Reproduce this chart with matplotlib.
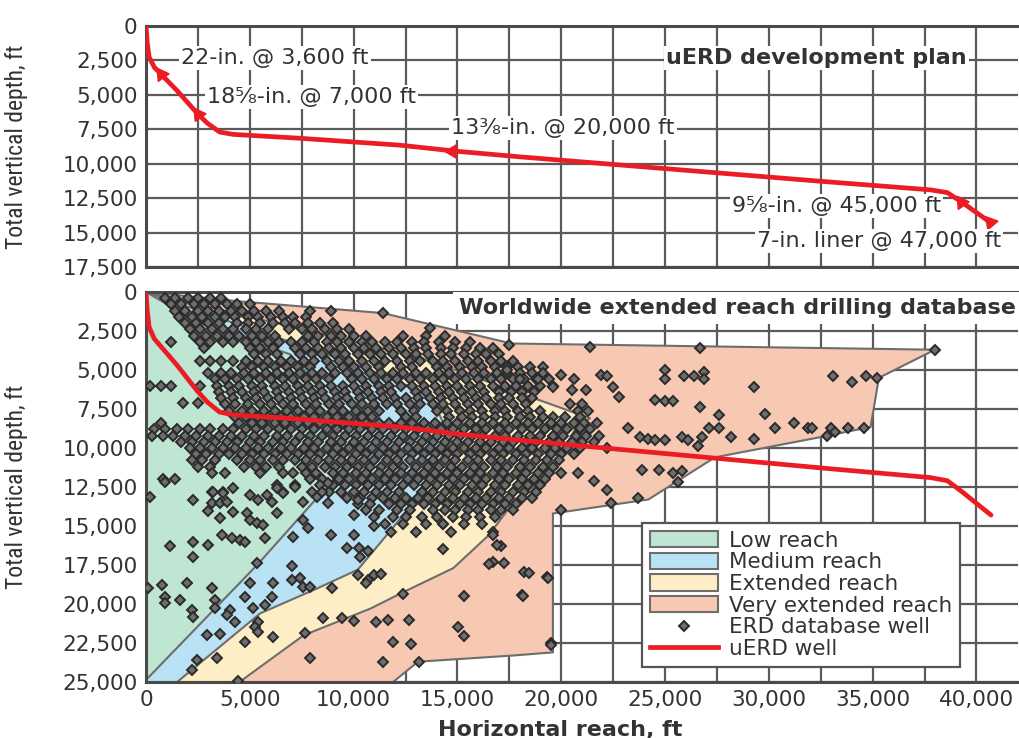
import numpy as np
import matplotlib
matplotlib.use("Agg")
import matplotlib.pyplot as plt
from matplotlib.patches import Polygon, Patch
from matplotlib.lines import Line2D
from matplotlib.ticker import FuncFormatter, MultipleLocator
from matplotlib import font_manager

# ---------------------------------------------------------------- data
# uERD well trajectory: horizontal reach and true vertical depth (ft)
uerd_reach = [0, 60, 150, 400, 770, 1500, 2460, 2950, 3550, 4200, 7400, 12200,
              15000, 18000, 27000, 32700, 37800, 38600, 39300, 40700]
uerd_tvd = [0, 1200, 2250, 3000, 3570, 4700, 6330, 7050, 7700, 7870, 8150, 8650,
            9100, 9500, 10600, 11300, 11900, 12100, 12800, 14300]

# casing program: size and setting depth (measured depth, ft)
casing_sizes = ["22-in.", "18\u215d-in.", "13\u215c-in.", "9\u215d-in.", "7-in. liner"]
casing_md = [3600, 7000, 20000, 45000, 47000]

# reach envelopes (kft): reach, depth vertices
low_reach_x = [0, 2.6, 6.95, 8.9, 9.85, 5.35, 0.05, 0]
low_reach_y = [0, 2.0, 4.0, 6.9, 10.8, 17.5, 24.8, 25.0]
medium_reach_x = [0, 4.05, 9.85, 13.7, 14.7, 13.1, 11.9, 10.2, 8.25, 5.5, 1.5, 0]
medium_reach_y = [0, 1.9, 4.5, 6.6, 9.5, 13.1, 15.1, 17.8, 19.0, 20.6, 25.0, 25.0]
extended_reach_x = [0, 13.2, 21.4, 20.8, 19.4, 17.6, 16.5, 14.8, 12.3, 10.8, 7.6, 4.5, 0]
extended_reach_y = [0, 4.2, 8.1, 8.5, 11.7, 13.65, 15.6, 17.7, 19.3, 20.3, 22.0, 25.0, 25.0]
very_extended_x = [0, 4.5, 11.4, 17.6, 38.0, 35.3, 34.9, 32.5, 27.4, 24.2, 19.6, 19.6,
                   17.7, 13.1, 11.9, 0]
very_extended_y = [0, 0.6, 1.35, 3.3, 3.7, 5.5, 8.65, 9.3, 10.6, 13.3, 14.2, 23.1,
                   23.3, 23.7, 25.0, 25.0]

# ERD database wells in the crowded core, grouped by depth (kft): (tvd, [reach...])
core_wells = [
    (0.4, [0.9, 1.4, 2.0, 2.5, 3.1, 3.6]),
    (0.8, [1.2, 1.7, 2.3, 2.8, 3.3, 3.9, 4.4, 5.0]),
    (1.2, [1.4, 1.9, 2.5, 3.0, 3.5, 4.1, 4.6, 5.2, 5.8, 6.4, 7.9, 8.9]),
    (1.6, [1.6, 2.2, 2.7, 3.3, 3.8, 4.3, 4.9, 5.4, 6.0, 6.6, 7.1, 7.7]),
    (2.0, [1.9, 2.4, 3.0, 3.5, 4.4, 4.9, 5.5, 6.1, 6.7, 7.2, 7.8, 8.4, 9.0]),
    (2.4, [2.1, 2.6, 3.2, 3.7, 4.2, 4.8, 5.3, 5.9, 6.9, 7.5, 8.0, 8.6, 9.2, 9.8]),
    (2.8, [2.3, 2.9, 3.4, 4.0, 4.5, 5.1, 5.6, 6.2, 7.8, 8.3, 8.9, 9.4, 10.0, 10.6,
           12.4, 13.5, 14.4]),
    (3.2, [1.2, 2.6, 3.1, 3.7, 4.2, 4.8, 5.3, 5.9, 6.4, 7.0, 7.5, 8.1, 8.7, 9.2, 9.8,
           10.4, 10.9, 11.5, 12.1, 12.8, 13.4, 14.1, 14.9, 15.6]),
    (3.6, [2.8, 5.0, 5.5, 6.1, 7.2, 7.7, 8.3, 8.8, 9.4, 10.0, 10.5, 11.1, 11.7, 12.3,
           12.9, 13.5, 14.2, 14.8, 15.4, 16.1, 16.7]),
    (4.0, [5.2, 5.8, 6.3, 7.4, 8.0, 8.5, 9.1, 9.6, 10.2, 10.8, 11.3, 11.9, 12.5, 13.0,
           13.6, 14.2, 14.7, 15.3, 15.9, 16.4, 17.0]),
    (4.4, [2.6, 3.1, 3.6, 4.2, 4.8, 5.4, 5.9, 6.5, 7.0, 7.6, 8.1, 8.7, 9.3, 9.8, 10.4,
           11.0, 11.5, 12.1, 12.7, 13.2, 13.8, 14.3, 14.9, 15.5, 16.0, 16.6, 17.1, 17.7]),
    (4.8, [4.6, 5.1, 5.7, 6.2, 6.8, 7.3, 7.9, 8.9, 9.5, 10.0, 10.6, 11.2, 12.3, 12.8,
           14.0, 14.5, 15.1, 15.7, 16.2, 16.8, 17.4, 17.9, 18.5, 19.1]),
    (5.2, [3.0, 3.6, 4.1, 4.7, 5.2, 5.8, 6.3, 6.9, 7.4, 8.0, 8.5, 9.1, 9.7, 10.2, 10.8,
           11.3, 11.9, 12.4, 13.0, 13.5, 14.1, 14.6, 15.2, 15.8, 16.3, 16.9, 17.4, 18.0,
           18.6, 19.1]),
    (5.6, [3.3, 3.8, 4.4, 4.9, 5.5, 6.0, 6.6, 7.1, 7.7, 8.2, 8.8, 9.9, 10.4, 11.0, 11.6,
           12.1, 12.7, 13.2, 13.8, 14.3, 14.9, 15.4, 16.0, 16.6, 17.1, 17.7, 18.2, 18.8,
           19.4]),
    (6.0, [0.2, 0.7, 1.2, 2.6, 3.4, 4.0, 4.5, 5.1, 5.6, 6.2, 6.7, 7.3, 7.8, 8.4, 8.9,
           9.5, 10.0, 10.6, 11.2, 11.7, 12.3, 12.8, 13.4, 13.9, 14.5, 15.0, 15.6, 16.1,
           16.7, 17.3, 17.8, 18.4, 19.0, 19.6]),
    (6.4, [3.5, 4.1, 4.6, 5.2, 5.7, 6.3, 6.9, 7.4, 8.0, 8.5, 9.1, 9.6, 10.2, 10.7, 11.3,
           11.8, 13.0, 13.5, 14.1, 14.6, 15.2, 15.7, 16.3, 17.0, 17.6, 18.1, 18.7]),
    (6.8, [3.6, 4.2, 4.8, 5.3, 5.9, 6.4, 7.0, 7.5, 8.1, 8.6, 9.2, 9.7, 10.3, 10.9, 11.4,
           12.0, 12.5, 13.1, 13.7, 14.2, 14.8, 15.3, 15.9, 16.4, 17.0, 17.5, 18.1, 18.6]),
    (7.1, [1.8, 2.5]),
    (7.2, [3.8, 4.3, 4.9, 5.5, 6.0, 6.6, 7.1, 7.7, 8.2, 8.8, 9.3, 9.9, 10.4, 11.0, 11.6,
           12.1, 12.7, 13.2, 13.8, 14.3, 14.9, 15.5, 16.0, 16.6, 17.1, 17.7, 18.3, 20.4,
           21.0]),
    (7.6, [4.0, 4.6, 5.1, 5.7, 6.2, 6.8, 7.3, 7.9, 8.4, 9.0, 9.5, 10.1, 10.7, 11.2, 12.3,
           12.9, 14.0, 14.5, 15.1, 15.6, 16.2, 16.8, 17.3, 17.9, 18.4, 19.0, 20.8, 21.3]),
    (8.0, [4.3, 4.8, 5.4, 5.9, 6.5, 7.0, 7.6, 8.1, 8.7, 9.2, 9.8, 10.4, 10.9, 12.5, 13.0,
           14.6, 15.2, 15.7, 16.3, 16.8, 17.4, 18.0, 18.5, 19.1, 19.6, 20.2, 20.9]),
    (8.4, [0.7, 4.5, 5.1, 5.6, 6.2, 6.7, 7.3, 7.8, 8.4, 8.9, 9.5, 10.1, 10.6, 11.2, 11.7,
           12.3, 12.8, 13.4, 13.9, 14.5, 15.0, 15.6, 16.2, 16.7, 17.3, 17.8, 18.4, 18.9,
           19.5, 20.0, 20.6, 21.1, 21.7]),
    (8.8, [0.4, 0.9, 1.5, 2.0, 2.6, 3.1, 3.7, 4.2, 4.8, 5.3, 5.9, 6.4, 7.0, 7.5, 8.1,
           8.7, 9.2, 9.8, 10.3, 10.9, 11.4, 12.0, 12.5, 13.1, 13.6, 14.2, 14.8, 15.3,
           15.9, 16.4, 17.0, 17.5, 18.1, 18.6, 19.2, 19.8, 20.3, 20.9, 21.4]),
    (9.2, [0.3, 0.8, 1.3, 1.9, 2.4, 3.0, 3.5, 4.1, 4.6, 5.2, 5.7, 6.3, 6.8, 7.4, 7.9,
           8.5, 9.0, 9.6, 10.1, 10.7, 11.2, 11.8, 12.4, 12.9, 13.5, 14.0, 14.6, 15.1,
           15.7, 16.2, 16.8, 17.3, 17.9, 18.5, 19.0, 19.6, 20.1, 20.7, 21.2, 21.8]),
    (9.6, [1.7, 2.2, 2.8, 3.3, 3.9, 4.4, 5.0, 5.5, 6.1, 6.6, 7.2, 7.8, 8.3, 8.9, 9.4,
           10.0, 10.5, 11.1, 11.6, 12.2, 12.7, 13.3, 13.8, 14.4, 15.0, 15.5, 16.1, 16.6,
           17.2, 17.7, 18.3, 18.8, 19.4, 19.9, 20.5, 21.0, 21.6]),
    (10.0, [2.1, 2.6, 3.2, 3.7, 4.3, 4.8, 5.4, 5.9, 6.5, 7.0, 7.6, 8.1, 8.7, 9.2, 9.8,
            10.3, 10.9, 11.4, 12.0, 12.6, 13.1, 13.7, 14.2, 14.8, 15.3, 15.9, 16.4,
            17.0, 17.5, 18.1, 18.6, 19.2, 19.7, 20.3, 20.9]),
    (10.4, [2.4, 2.9, 3.5, 4.0, 4.6, 5.1, 5.7, 6.2, 6.8, 7.3, 7.9, 8.4, 9.0, 9.5, 10.1,
            10.6, 11.2, 11.7, 12.3, 12.8, 13.4, 13.9, 14.5, 15.0, 15.6, 16.1, 16.7,
            17.2, 17.8, 18.3, 18.9, 19.5, 20.0, 20.6]),
    (10.8, [2.2, 2.7, 3.3, 4.4, 5.0, 5.5, 6.1, 6.6, 7.2, 7.7, 8.3, 8.8, 9.4, 9.9, 10.5,
            11.0, 11.6, 12.1, 12.7, 13.3, 13.8, 14.4, 14.9, 15.5, 16.0, 16.6, 17.1,
            17.7, 18.2, 18.8, 19.3, 19.9]),
    (11.2, [2.5, 3.1, 4.7, 5.3, 5.8, 6.4, 7.5, 8.0, 8.6, 9.1, 9.7, 10.2, 10.8, 11.3,
            11.9, 12.4, 13.0, 13.6, 14.1, 14.7, 15.2, 15.8, 16.3, 16.9, 17.4, 18.0,
            18.5, 19.1, 19.6]),
    (11.6, [3.2, 3.8, 5.5, 6.6, 7.1, 7.7, 8.2, 9.0, 9.5, 10.1, 10.6, 11.2, 11.7, 12.3,
            12.8, 13.4, 13.9, 14.5, 15.0, 15.6, 16.1, 16.7, 17.2, 17.8, 18.3, 18.9,
            19.4, 20.0]),
    (12.0, [0.8, 1.4, 7.9, 8.5, 9.3, 9.8, 10.4, 10.9, 11.5, 12.0, 12.6, 13.1, 13.7,
            14.2, 14.8, 15.3, 15.9, 16.4, 17.0, 17.5, 18.1, 18.7, 19.2]),
    (12.4, [6.3, 7.2, 8.4, 9.0, 9.6, 10.1, 10.7, 11.2, 11.8, 12.4, 12.9, 13.5, 14.0,
            14.6, 15.1, 15.7, 16.2, 16.8, 17.3, 17.9, 18.4, 19.0]),
    (12.8, [3.2, 3.7, 6.6, 8.8, 9.4, 10.0, 10.5, 11.1, 11.6, 12.2, 13.3, 13.8, 14.4,
            14.9, 15.5, 16.0, 16.6, 17.1, 17.7, 18.2, 18.8]),
    (13.2, [9.7, 10.3, 10.9, 11.4, 12.0, 12.5, 13.1, 13.6, 14.2, 14.8, 15.3, 15.9,
            16.4, 17.0, 17.5, 18.1, 18.6]),
    (13.6, [10.2, 10.8, 11.7, 12.3, 12.8, 13.4, 13.9, 14.5, 15.1, 15.6, 16.2, 16.7,
            17.3, 17.8]),
    (14.0, [10.6, 11.2, 12.1, 12.7, 13.8, 14.4, 14.9, 15.5, 16.0, 16.6, 17.1, 17.7]),
    (14.4, [11.0, 11.9, 12.5, 13.3, 14.0, 14.8, 15.4, 16.1, 16.8]),
    (14.9, [11.5, 12.4, 13.5, 14.3, 15.3, 16.2]),
    (15.4, [11.8, 13.0, 14.7, 16.7]),
]

# ERD database wells standing apart from the core (kft): (reach, tvd)
outlying_wells = [
    (11.4, 1.35), (13.7, 2.3), (17.5, 3.4), (21.4, 3.5), (26.7, 3.6), (38.0, 3.7),
    (17.4, 5.0), (18.0, 5.6), (18.9, 5.6), (20.0, 5.3), (20.6, 5.6), (19.6, 6.1),
    (20.5, 6.3), (21.2, 6.3), (21.9, 5.3), (22.2, 5.4), (22.5, 6.1), (22.8, 6.7),
    (25.0, 5.0), (25.0, 5.6), (25.9, 5.4), (26.4, 5.4), (26.9, 5.1), (26.9, 5.6),
    (29.3, 6.1), (33.1, 5.4), (34.0, 5.8), (34.7, 5.4), (35.2, 5.5), (24.5, 6.9),
    (25.0, 7.0), (25.4, 7.0), (26.7, 7.4), (27.6, 7.9), (29.8, 7.8), (23.2, 8.7),
    (23.8, 9.3), (24.2, 9.4), (24.5, 9.5), (25.0, 9.5), (25.8, 9.3), (26.1, 9.5),
    (26.6, 9.9), (27.1, 8.7), (26.8, 9.3), (27.6, 8.7), (28.2, 9.3), (29.3, 9.4),
    (30.3, 8.7), (31.2, 8.4), (31.9, 8.7), (32.1, 8.7), (33.0, 8.7), (33.8, 8.7),
    (34.6, 8.7), (32.8, 9.2), (33.2, 9.0), (20.9, 8.7), (20.8, 11.6), (21.6, 12.1),
    (22.2, 12.7), (23.9, 11.4), (24.7, 11.4), (25.4, 11.6), (25.8, 11.5), (25.6, 12.2),
    (22.2, 10.0), (22.4, 13.5), (23.7, 13.2), (20.0, 14.0), (17.1, 16.3), (19.3, 18.3),
    (18.1, 19.4), (19.5, 22.5),
    (0.19, 13.14), (0.92, 12.18), (2.27, 13.33), (3.23, 12.82), (3.72, 12.88),
    (4.2, 12.56), (3.19, 13.53), (3.57, 13.53), (3.91, 13.46), (2.99, 14.04),
    (3.57, 14.49), (4.2, 14.1), (4.87, 14.17), (5.02, 13.01), (5.41, 13.33),
    (5.84, 13.01), (6.08, 13.46), (6.32, 12.56), (6.61, 12.88), (6.32, 14.17),
    (5.02, 14.62), (5.36, 14.81), (5.65, 14.94), (3.67, 15.58), (4.15, 15.77),
    (4.54, 15.9), (4.78, 16.03), (5.74, 15.77), (1.16, 16.28), (2.27, 16.03),
    (2.99, 16.22), (7.19, 12.5), (7.58, 13.46), (8.01, 12.82), (8.25, 13.14),
    (8.5, 12.82), (8.79, 13.53), (8.79, 12.24), (7.58, 14.62), (7.82, 15.13),
    (7.1, 15.71), (8.89, 15.58), (10.0, 15.58), (10.19, 13.33), (10.0, 14.29),
    (9.7, 16.41), (10.24, 16.41), (10.33, 16.99),
    (14.3, 14.9), (16.7, 15.6), (16.9, 16.2), (14.3, 16.5), (16.7, 17.3),
    (11.0, 15.0), (10.7, 16.6),
    (2.27, 17.0), (5.36, 17.37), (7.05, 17.56), (0.1, 18.97), (0.77, 18.78),
    (1.98, 18.65), (3.19, 18.97), (0.92, 19.55), (0.92, 19.94), (1.64, 19.74),
    (3.33, 19.74), (2.22, 20.38), (2.27, 20.83), (3.33, 20.26), (4.06, 20.38),
    (3.91, 20.7), (4.3, 21.15), (5.02, 18.65), (6.13, 18.65), (7.05, 18.46),
    (7.43, 18.33), (7.58, 18.91), (7.92, 18.91), (4.78, 19.55), (6.08, 19.55),
    (5.17, 20.26), (5.74, 20.06), (5.41, 21.15), (5.26, 21.47), (5.41, 21.79),
    (6.13, 22.11), (2.94, 21.99), (3.57, 21.92), (4.78, 22.44), (7.67, 21.86),
    (8.54, 20.9), (9.46, 20.9), (10.0, 21.09), (8.98, 18.97), (10.19, 18.14),
    (10.67, 18.46), (2.46, 23.59), (3.43, 23.46), (2.22, 24.23), (7.92, 23.46),
    (4.44, 24.93),
    (16.5, 17.44), (17.23, 17.37), (18.2, 17.95), (18.44, 18.01), (19.35, 18.33),
    (10.96, 18.14), (11.3, 18.08), (10.58, 18.65), (12.36, 19.36), (15.31, 19.49),
    (18.16, 19.49), (11.06, 21.15), (11.64, 21.02), (12.65, 21.02), (15.02, 21.47),
    (15.31, 22.05), (11.88, 22.44), (12.75, 22.56), (19.5, 22.63), (11.4, 23.72),
    (13.14, 23.72),
]

region_labels = ["Low reach", "Medium reach", "Extended reach", "Very extended reach"]

# ---------------------------------------------------------------- style
RED = "#ec1c24"
GRID = "#5a5a5a"
EDGE = "#6d6d6d"
TXT = "#333333"
FILLS = ["#bfe5d3", "#b9e2f5", "#fdeec6", "#f8c9b2"]


def first_family(names):
    have = {f.name for f in font_manager.fontManager.ttflist}
    for n in names:
        if n in have:
            return n
    return "DejaVu Sans"


NARROW = first_family(["Liberation Sans Narrow", "Roboto Condensed", "Liberation Sans"])
plt.rcParams["font.family"] = ["DejaVu Sans"]

W, H = 1019, 738
fig = plt.figure(figsize=(W / 100, H / 100), dpi=100)


def rect(left, top, right, bottom):
    return [left / W, 1 - bottom / H, (right - left) / W, (bottom - top) / H]


ax_top = fig.add_axes(rect(146, 26, 1018, 267))
ax_bot = fig.add_axes(rect(146, 292, 1018, 682))

thousands = FuncFormatter(lambda v, _: f"{int(round(v)):,}")


def style_axes(ax, depth_max):
    ax.set_xlim(0, 42000)
    ax.set_ylim(depth_max, 0)
    ax.xaxis.set_major_locator(MultipleLocator(5000))
    ax.xaxis.set_minor_locator(MultipleLocator(2500))
    ax.yaxis.set_major_locator(MultipleLocator(2500))
    ax.xaxis.set_major_formatter(thousands)
    ax.yaxis.set_major_formatter(thousands)
    ax.grid(True, which="both", color=GRID, lw=1.6, zorder=0)
    ax.set_axisbelow(True)
    ax.tick_params(which="both", length=0, labelsize=15.5, colors=TXT, pad=6)
    for s in ("left", "top", "bottom"):
        ax.spines[s].set_color("#4a4a4a")
        ax.spines[s].set_linewidth(2.2)
    ax.spines["right"].set_visible(False)
    ax.set_ylabel("Total vertical depth, ft", family=NARROW, fontsize=17, color=TXT)
    ax.yaxis.set_label_coords(-(146 - 28) / 872, 0.5)


style_axes(ax_top, 17500)
style_axes(ax_bot, 25000)
ax_top.tick_params(labelbottom=False)

# ---------------------------------------------------------------- top panel: plan
ax_top.plot(uerd_reach, uerd_tvd, color=RED, lw=3.4, zorder=4, solid_capstyle="round")

# casing shoes located along the path at their measured depth
seg = np.hypot(np.diff(uerd_reach), np.diff(uerd_tvd))
md_path = np.concatenate([[0], np.cumsum(seg)])
shoe_x = np.interp(casing_md, md_path, uerd_reach)
shoe_y = np.interp(casing_md, md_path, uerd_tvd)
shoe_rot = [35, 35, 90, 35, -80]
for x, y, r in zip(shoe_x, shoe_y, shoe_rot):
    ax_top.plot(x, y, marker=(3, 0, r), ms=11, color=RED, mec=RED, zorder=5)

label_box = dict(facecolor="white", edgecolor="none", pad=1.5)
label_pos = [(1700, 2300, "left"), (2950, 5170, "left"), (14700, 7420, "left"),
             (38300, 13050, "right"), (41200, 15600, "right")]
for (lx, ly, ha), size, md in zip(label_pos, casing_sizes, casing_md):
    ax_top.text(lx, ly, f"{size} @ {md:,} ft", ha=ha, va="center", fontsize=16,
                color=TXT, bbox=label_box, zorder=6)

ax_top.text(32300, 2330, "uERD development plan", ha="center", va="center",
            fontsize=16, fontweight="bold", color=TXT, bbox=label_box, zorder=6)

# ---------------------------------------------------------------- bottom panel: database
envelopes = [
    (very_extended_x, very_extended_y),
    (extended_reach_x, extended_reach_y),
    (medium_reach_x, medium_reach_y),
    (low_reach_x, low_reach_y),
]
for (ex, ey), fc in zip(envelopes, FILLS[::-1]):
    verts = np.column_stack([np.array(ex) * 1000, np.array(ey) * 1000])
    ax_bot.add_patch(Polygon(verts, closed=True, facecolor=fc, edgecolor=EDGE,
                             lw=1.5, zorder=1))

well_x = [r * 1000 for tvd, reaches in core_wells for r in reaches]
well_y = [tvd * 1000 for tvd, reaches in core_wells for r in reaches]
well_x += [r * 1000 for r, t in outlying_wells]
well_y += [t * 1000 for r, t in outlying_wells]
dot_style = dict(ls="none", marker="D", ms=5.3, mfc="#6e6e6e", mec="#2a2a2a", mew=1.4)
ax_bot.plot(well_x, well_y, zorder=3, **dot_style)

ax_bot.plot(uerd_reach, uerd_tvd, color=RED, lw=3.4, zorder=4, solid_capstyle="round")

ax_bot.text(0.997, 1 - (308 - 292) / 390, "Worldwide extended reach drilling database",
            transform=ax_bot.transAxes, ha="right", va="center", fontsize=16,
            fontweight="bold", color=TXT, zorder=6,
            bbox=dict(facecolor="white", edgecolor="none", pad=4))

ax_bot.set_xlabel("Horizontal reach, ft", fontsize=16, fontweight="bold", color=TXT)
ax_bot.xaxis.set_label_coords((560 - 146) / 872, -(718 - 682) / 390 - 0.005)

handles = [Patch(facecolor=fc, edgecolor=EDGE, lw=1.5) for fc in FILLS]
handles.append(Line2D([], [], **dot_style))
handles.append(Line2D([], [], color=RED, lw=3.4))
labels = region_labels + ["ERD database well", "uERD well"]
leg = ax_bot.legend(handles, labels, loc="upper left",
                    bbox_to_anchor=((642 - 146) / 872, 1 - (523 - 292) / 390),
                    borderaxespad=0, fontsize=15.5, frameon=True, fancybox=False,
                    framealpha=1, edgecolor="#555555", handlelength=3.2,
                    handleheight=0.8, handletextpad=0.5, labelspacing=0.08,
                    borderpad=0.35)
leg.get_frame().set_linewidth(1.6)
leg.set_zorder(7)
for t in leg.get_texts():
    t.set_color(TXT)

fig.savefig("out.png", dpi=100, facecolor="white")
